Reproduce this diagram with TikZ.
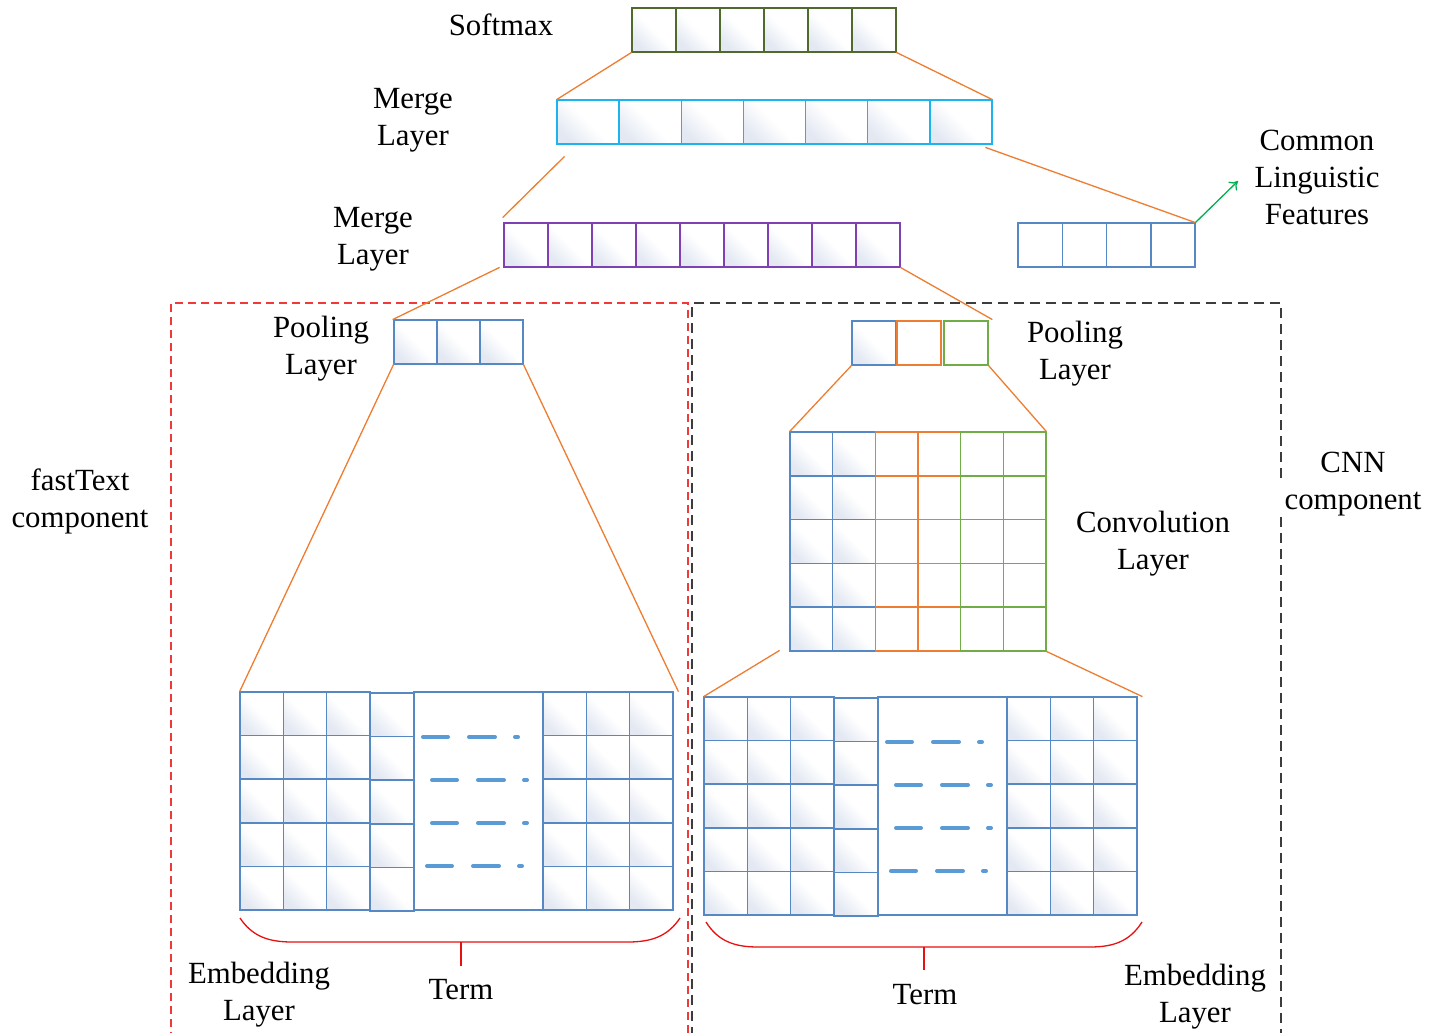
\documentclass[tikz,border=0pt]{standalone}
\usepackage{fontspec}
\setmainfont{Liberation Serif}
\usetikzlibrary{fit,arrows.meta}

\definecolor{sftgreen}{HTML}{4F6A2C}
\definecolor{mergecyan}{HTML}{1DB3EE}
\definecolor{mergepurple}{HTML}{7F40B4}
\definecolor{cellblue}{HTML}{5688C4}
\definecolor{linkorange}{HTML}{ED7D31}
\definecolor{convgreen}{HTML}{70AD47}
\definecolor{arrowgreen}{HTML}{00B050}
\definecolor{dashblue}{HTML}{5B9BD5}
\definecolor{boxred}{HTML}{F03A3A}
\definecolor{bracered}{HTML}{E81010}
\definecolor{boxgray}{HTML}{3C3C3C}
\definecolor{cellshade}{HTML}{E3E8F2}

\tikzset{
  cell/.style={line width=0.75pt, top color=white, bottom color=cellshade,
               middle color=white, shading angle=-45},
  plaincell/.style={line width=0.75pt, fill=white},
  link/.style={linkorange, line width=0.65pt},
  dashline/.style={dashblue, line width=2pt, line cap=round},
  brace/.style={bracered, line width=0.65pt},
  lbl/.style={font=\fontsize{15.4}{18.5}\selectfont, align=center, inner sep=0pt},
  area/.style={inner sep=0pt, draw=none},
  redbox/.style={boxred, line width=0.65pt, dash pattern=on 4pt off 2.5pt},
  graybox/.style={boxgray, line width=0.65pt, dash pattern=on 5pt off 3pt},
}

% a horizontal row of cells: name, style, colour, x0, y0, cell width, cell height, count
\newcommand\layerrow[8]{%
  \foreach \k in {1,...,#8} {
    \draw[#2, draw=#3] ({#4+(\k-1)*#6},#5) rectangle ++(#6,#7);
  }
  \node[area, fit={(#4,#5) ({#4+#8*#6},{#5+#7})}] (#1) {};
}

% an embedding matrix: name, x0, y0
\newcommand\embgrid[3]{%
  \foreach \i in {0,1,2} \foreach \j in {0,...,4} {
    \draw[cell, draw=cellblue] ({#2+\i*43.3},{#3+\j*43.6}) rectangle ++(43.3,43.6);
    \draw[cell, draw=cellblue] ({#2+303+\i*43.3},{#3+\j*43.6}) rectangle ++(43.3,43.6);
  }
  \foreach \j in {0,...,4}
    \draw[cell, draw=cellblue] ({#2+130},{#3+1+\j*43.6}) rectangle ++(44,43.6);
  \draw[line width=0.75pt, draw=cellblue, fill=white] ({#2+174},#3) rectangle ({#2+303},{#3+218});
  \foreach \dy/\a in {45/181, 88/190, 131/190, 174/185} {
    \draw[dashline] ({#2+\a+2},{#3+\dy}) -- ++(25,0)
                    ({#2+\a+48},{#3+\dy}) -- ++(26,0)
                    ({#2+\a+94},{#3+\dy}) -- ++(3,0);
  }
  \node[area, fit={(#2,#3) ({#2+433},{#3+218})}] (#1) {};
}

\begin{document}
\begin{tikzpicture}[x=0.5pt, y=-0.5pt]
\useasboundingbox (0,0) rectangle (1431,1033);

% component frames
\draw[redbox] (171,1040) -- (171,303) -- (688,303) -- (688,1040);
\draw[graybox] (1281,478) -- (1281,303) -- (692,303) -- (692,1040);
\draw[graybox] (1281,517) -- (1281,1040);

% stacked layers
\layerrow{softmax}{cell}{sftgreen}{632}{8}{44}{44}{6}
\layerrow{mergetop}{cell}{mergecyan}{557}{100}{62.14}{44}{7}
\layerrow{mergemid}{cell}{mergepurple}{504}{223}{44}{44}{9}
\layerrow{ling}{plaincell}{cellblue}{1018}{223}{44.25}{44}{4}
\layerrow{poolft}{cell}{cellblue}{394}{320}{43}{44}{3}

% CNN pooling layer
\draw[cell, draw=cellblue] (852,321) rectangle (896,365);
\draw[plaincell, draw=linkorange] (897,321) rectangle (941,365);
\draw[plaincell, draw=convgreen] (944,321) rectangle (988,365);
\node[area, fit={(852,321) (988,365)}] (poolcnn) {};

% convolution layer
\foreach \i in {0,1} \foreach \j in {0,...,4}
  \draw[cell, draw=cellblue] ({790+\i*42.67},{432+\j*43.8}) rectangle ++(42.67,43.8);
\foreach \i in {2,3} \foreach \j in {0,...,4}
  \draw[plaincell, draw=linkorange] ({790+\i*42.67},{432+\j*43.8}) rectangle ++(42.67,43.8);
\foreach \i in {4,5} \foreach \j in {0,...,4}
  \draw[plaincell, draw=convgreen] ({790+\i*42.67},{432+\j*43.8}) rectangle ++(42.67,43.8);
\node[area, fit={(790,432) (1046,651)}] (conv) {};

% embedding layers
\embgrid{embft}{240}{692}
\embgrid{embcnn}{704}{697}

% connectors between layers
\draw[link] (softmax.south west) -- (mergetop.north west);
\draw[link] (softmax.south east) -- (mergetop.north east);
\draw[link] ([shift={(8,12)}]mergetop.south west) -- ([shift={(-1,-5)}]mergemid.north west);
\draw[link] ([shift={(-7,3)}]mergetop.south east) -- (ling.north east);
\draw[link] ([shift={(-4,0)}]mergemid.south west) -- ([shift={(-1,0)}]poolft.north west);
\draw[link] (mergemid.south east) -- ([shift={(4,-1)}]poolcnn.north east);
\draw[link] (poolft.south west) -- (embft.north west);
\draw[link] (poolft.south east) -- ([shift={(5,0)}]embft.north east);
\draw[link] (poolcnn.south west) -- (conv.north west);
\draw[link] (poolcnn.south east) -- (conv.north east);
\draw[link] ([shift={(-10,-1)}]conv.south west) -- (embcnn.north west);
\draw[link] (conv.south east) -- ([shift={(5,0)}]embcnn.north east);

% common linguistic features arrow
\coordinate (lingtip) at (1238,181);
\draw[arrowgreen, line width=0.65pt, -{To[length=4pt,width=6pt]}] (ling.north east) -- (lingtip);

% braces under the embedding layers
\coordinate (bftl) at (240,918);
\coordinate (bftr) at (680,918);
\coordinate (bftm) at (461,942);
\draw[brace] (bftl) .. controls (252,936) and (268,942) .. (292,942) -- (628,942)
  .. controls (652,942) and (668,936) .. (bftr);
\draw[brace] (bftm) -- ++(0,24);
\coordinate (bcnl) at (706,922);
\coordinate (bcnr) at (1142,922);
\coordinate (bcnm) at (924,947);
\draw[brace] (bcnl) .. controls (718,941) and (734,947) .. (758,947) -- (1090,947)
  .. controls (1114,947) and (1130,941) .. (bcnr);
\draw[brace] (bcnm) -- ++(0,23);

% labels
\node[lbl] (tsoftmax) at (501,25) {Softmax};
\node[lbl] (tmergetop) at (413,120) {Merge\\Layer};
\node[lbl] (tmergemid) at (373,239) {Merge\\Layer};
\node[lbl] (tling) at (1317,177) {Common\\Linguistic\\Features};
\node[lbl] (tpoolft) at (321,349) {Pooling\\Layer};
\node[lbl] (tpoolcnn) at (1075,354) {Pooling\\Layer};
\node[lbl] (tfast) at (80,501) {fastText\\component};
\node[lbl] (tcnn) at (1353,484) {CNN\\component};
\node[lbl] (tconv) at (1153,544) {Convolution\\Layer};
\node[lbl] (tembft) at (259,995) {Embedding\\Layer};
\node[lbl] (ttermft) at (461,990) {Term};
\node[lbl] (ttermcnn) at (925,995) {Term};
\node[lbl] (tembcnn) at (1195,997) {Embedding\\Layer};
\end{tikzpicture}
\end{document}
